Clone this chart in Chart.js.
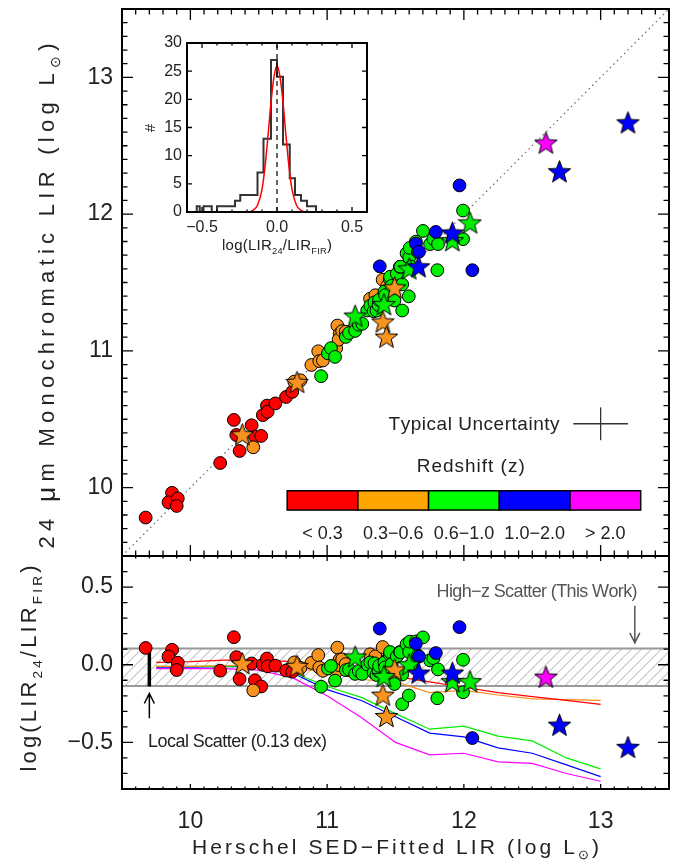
<!DOCTYPE html>
<html>
<head>
<meta charset="utf-8">
<title>LIR24 vs LIR FIR</title>
<script src="https://cdn.jsdelivr.net/npm/chart.js@4.4.1/dist/chart.umd.min.js"></script>
<style>
  html, body { margin: 0; padding: 0; background: #fff; }
  #wrap { position: relative; width: 681px; height: 861px; overflow: hidden; }
  #wrap canvas { position: absolute; }
</style>
</head>
<body>
<div id="wrap">
  <canvas id="topChart" width="681" height="560" style="left:0;top:0;"></canvas>
  <canvas id="botChart" width="681" height="309" style="left:0;top:552px;"></canvas>
  <canvas id="histChart" width="240" height="232" style="left:140px;top:28px;"></canvas>
</div>
<script>
const FONT = "'Liberation Sans', Arial, sans-serif";
const INK = '#222';

// [log LIR from Herschel SED fit, log LIR from 24um], one list per redshift bin
const circZ0 = [[9.673, 9.781], [9.866, 9.962], [9.840, 9.893], [9.908, 9.921], [9.900, 9.866],
  [10.218, 10.180], [10.318, 10.495], [10.336, 10.385], [10.360, 10.268], [10.448, 10.456],
  [10.472, 10.372], [10.518, 10.378], [10.530, 10.530], [10.560, 10.600], [10.565, 10.555],
  [10.622, 10.616], [10.700, 10.663], [10.745, 10.700]];
const circZ1 = [[10.460, 10.295], [10.760, 10.775], [10.805, 10.785], [10.885, 10.897], [10.935, 10.997],
  [10.943, 10.925], [10.969, 10.930], [11.066, 11.020], [11.075, 11.185], [11.092, 11.125],
  [11.084, 11.082], [11.110, 11.145], [11.136, 11.140], [11.314, 11.381], [11.353, 11.407],
  [11.406, 11.520], [11.440, 11.475]];
const circZ2 = [[10.956, 10.815], [11.006, 10.982], [11.028, 11.020], [11.058, 10.956], [11.137, 11.102],
  [11.160, 11.130], [11.205, 11.146], [11.232, 11.191], [11.257, 11.198], [11.293, 11.295],
  [11.316, 11.331], [11.340, 11.290], [11.346, 11.355], [11.361, 11.295], [11.376, 11.335],
  [11.380, 11.373], [11.419, 11.433], [11.424, 11.407], [11.458, 11.525], [11.460, 11.542],
  [11.472, 11.476], [11.492, 11.368], [11.510, 11.564], [11.532, 11.614], [11.536, 11.616],
  [11.549, 11.295], [11.549, 11.486], [11.581, 11.713], [11.597, 11.399], [11.600, 11.682],
  [11.604, 11.753], [11.615, 11.616], [11.649, 11.799], [11.664, 11.723], [11.701, 11.877],
  [11.753, 11.781], [11.777, 11.819], [11.806, 11.590], [11.811, 11.781], [11.994, 12.026],
  [11.994, 11.817]];
const circZ3 = [[11.385, 11.618], [11.649, 11.785], [11.672, 11.725], [11.795, 11.870],
  [11.968, 12.210], [12.062, 11.590]];
const starZ1 = [[10.380, 10.387], [10.780, 10.770], [11.408, 11.212], [11.434, 11.101], [11.494, 11.461]];
const starZ2 = [[11.205, 11.255], [11.415, 11.339], [11.600, 11.600], [11.915, 11.806], [12.045, 11.936]];
const starZ3 = [[11.669, 11.615], [11.916, 11.862], [12.699, 12.310], [13.200, 12.668]];
const starZ4 = [[12.600, 12.520]];
const oneToOne = [9.5, 13.5];

// model tracks in the residual panel
const trackX = [9.75, 10.0, 10.25, 10.5, 10.75, 11.0, 11.25, 11.5, 11.75, 12.0, 12.25, 12.5, 12.75, 13.0];
const trackZ0 = [0.015, 0.02, 0.03, 0.03, 0.02, -0.005, -0.04, -0.075, -0.11, -0.145, -0.18, -0.205, -0.23, -0.255];
const trackZ1 = [-0.01, -0.01, -0.005, 0.0, -0.02, -0.05, -0.095, -0.11, -0.18, -0.165, -0.195, -0.22, -0.225, -0.23];
const trackZ2 = [-0.01, -0.01, -0.01, -0.005, -0.05, -0.14, -0.21, -0.315, -0.415, -0.395, -0.46, -0.49, -0.6, -0.67];
const trackZ3 = [-0.015, -0.015, -0.012, -0.01, -0.055, -0.16, -0.23, -0.335, -0.44, -0.465, -0.535, -0.57, -0.645, -0.72];
const trackZ4 = [-0.025, -0.025, -0.025, -0.035, -0.085, -0.2, -0.34, -0.5, -0.58, -0.57, -0.625, -0.635, -0.7, -0.75];
const highzBand = [-0.137, 0.104];
const localBar = [-0.14, 0.12];

// inset histogram of log(LIR24/LIRFIR)
const histEdges = [-0.535, -0.515, -0.49, -0.435, -0.40, -0.28, -0.245, -0.13, -0.09, -0.04, 0.00,
  0.04, 0.085, 0.12, 0.16, 0.20, 0.26];
const histCounts = [1, 0, 1, 0, 1, 2, 3, 7, 13, 27, 24, 12, 6, 3, 2, 1];
const fitX = [-0.6, -0.25, -0.2, -0.16, -0.13, -0.1, -0.08, -0.06, -0.04, -0.02, 0, 0.02, 0.04,
  0.06, 0.08, 0.1, 0.13, 0.16, 0.2, 0.25, 0.6];
const fitY = [0, 0, 0, 0.3, 1.2, 4, 8, 13.5, 19.5, 24, 26, 24, 19.5, 13.5, 8, 4, 1.2, 0.3, 0, 0, 0];

const xTicks = [10, 11, 12, 13];
const yTicks = [10, 11, 12, 13];
const resTicks = [-0.5, 0, 0.5];
const histXTicks = [-0.5, 0, 0.5];
const histYTicks = [0, 5, 10, 15, 20, 25, 30];
const zLabels = ['< 0.3', '0.3−0.6', '0.6−1.0', '1.0−2.0', '> 2.0'];

const zColors = ['#ff0000', '#ffa500', '#00ff00', '#0000ff', '#ff00ff'];
const ptColors = ['#ff0000', '#f7931e', '#00ee00', '#0000ff', '#ff00ff'];

// annotation placement (data units)
const errCenter = [13.0, 10.467];
const errHalf = [0.2, 0.12];
const cbar = { x0: 10.708, x1: 13.293, y0: 9.836, y1: 9.977, labelY: 9.66 };

const toXY = pts => pts.map(p => ({ x: p[0], y: p[1] }));
const toRes = pts => pts.map(p => ({ x: p[0], y: p[1] - p[0] }));
const track = ys => trackX.map((x, i) => ({ x, y: ys[i] }));

function starImg(color) {
    const c = document.createElement('canvas');
    c.width = 27; c.height = 27;
    const g = c.getContext('2d');
    g.beginPath();
    for (let i = 0; i < 10; i++) {
        const r = i % 2 ? 5.0 : 11.8;
        const a = -Math.PI / 2 + i * Math.PI / 5;
        g.lineTo(13.5 + r * Math.cos(a), 14.2 + r * Math.sin(a));
    }
    g.closePath();
    g.fillStyle = color;
    g.fill();
    g.lineWidth = 1;
    g.strokeStyle = '#000';
    g.stroke();
    return c;
}

function circles(pts, color, map) {
    return { data: map(pts), pointStyle: 'circle', pointRadius: 6.4, backgroundColor: color, borderColor: '#000', borderWidth: 1 };
}
function starSet(pts, color, map) {
    return { data: map(pts), pointStyle: starImg(color), pointRadius: 11 };
}
function lineSet(data, color, width, extra) {
    return Object.assign({ type: 'line', data, borderColor: color, borderWidth: width, pointRadius: 0, fill: false, tension: 0 }, extra || {});
}

// text with subscripts, stretched to a target width if asked
function drawRich(ctx, parts, x, y, size, opts = {}) {
    const align = opts.align || 'center';
    ctx.save();
    ctx.translate(x, y);
    if (opts.rotate) ctx.rotate(-Math.PI / 2);
    ctx.fillStyle = opts.color || INK;
    ctx.textBaseline = 'middle';
    ctx.textAlign = 'left';
    const sz = p => p.sub ? size * 0.62 : size * (p.scale || 1);
    let raw = 0, n = 0;
    parts.forEach(p => {
        ctx.font = `${sz(p)}px ${FONT}`;
        for (const ch of p.t) { raw += ctx.measureText(ch).width; n++; }
    });
    const sp = opts.width ? (opts.width - raw) / Math.max(n - 1, 1) : 0;
    const total = raw + sp * (n - 1);
    let cx = align === 'center' ? -total / 2 : align === 'right' ? -total : 0;
    parts.forEach(p => {
        ctx.font = `${sz(p)}px ${FONT}`;
        const dy = p.sub ? size * 0.36 : 0;
        for (const ch of p.t) {
            ctx.fillText(ch, cx, dy);
            cx += ctx.measureText(ch).width + sp;
        }
    });
    ctx.restore();
}

// IDL style box with inward ticks on all four sides
function idlFrame(chart, o) {
    const { ctx, chartArea: a, scales: { x, y } } = chart;
    const steps = (min, max, step) => {
        const out = [];
        for (let i = Math.ceil(min / step - 1e-6); i * step <= max + 1e-6; i++) out.push(i * step);
        return out;
    };
    const isMajor = (v, majors) => majors.some(m => Math.abs(m - v) < 1e-6);
    ctx.save();
    ctx.strokeStyle = '#000';
    ctx.lineWidth = 1.3;
    ctx.beginPath();
    steps(x.min, x.max, o.xStep).forEach(v => {
        const p = x.getPixelForValue(v);
        const len = isMajor(v, o.xMajor) ? o.xLen : o.xLen / 2;
        ctx.moveTo(p, a.bottom); ctx.lineTo(p, a.bottom - len);
        ctx.moveTo(p, a.top); ctx.lineTo(p, a.top + len);
    });
    steps(y.min, y.max, o.yStep).forEach(v => {
        const p = y.getPixelForValue(v);
        const len = isMajor(v, o.yMajor) ? o.yLen : o.yLen / 2;
        ctx.moveTo(a.left, p); ctx.lineTo(a.left + len, p);
        ctx.moveTo(a.right, p); ctx.lineTo(a.right - len, p);
    });
    ctx.stroke();
    ctx.lineWidth = 2;
    ctx.strokeRect(a.left, a.top, a.right - a.left, a.bottom - a.top);
    ctx.restore();
}

function arrow(ctx, x, y0, y1, color, w) {
    const d = Math.sign(y1 - y0);
    ctx.save();
    ctx.strokeStyle = color;
    ctx.lineWidth = w;
    ctx.beginPath();
    ctx.moveTo(x, y0); ctx.lineTo(x, y1);
    ctx.moveTo(x - 5, y1 - d * 10); ctx.lineTo(x, y1); ctx.lineTo(x + 5, y1 - d * 10);
    ctx.stroke();
    ctx.restore();
}

function baseOptions(padding) {
    return {
        responsive: false,
        animation: false,
        devicePixelRatio: 1,
        events: [],
        layout: { padding, autoPadding: false },
        plugins: { legend: { display: false }, tooltip: { enabled: false } }
    };
}

function valueAxis(min, max, ticks, size, width, pad, fmt) {
    return {
        type: 'linear', min, max,
        grid: { display: false, drawTicks: false },
        border: { display: false },
        afterBuildTicks: s => { s.ticks = ticks.map(v => ({ value: v })); },
        afterFit: s => { s.width = width; s.paddingTop = 0; s.paddingBottom = 0; },
        ticks: { font: { family: FONT, size }, color: INK, padding: pad, autoSkip: false, callback: fmt }
    };
}
function baseAxis(min, max, ticks, size, height, pad, fmt) {
    return {
        type: 'linear', min, max,
        grid: { display: false, drawTicks: false },
        border: { display: false },
        afterBuildTicks: s => { s.ticks = ticks.map(v => ({ value: v })); },
        afterFit: s => { s.height = height; s.paddingLeft = 0; s.paddingRight = 0; },
        ticks: { font: { family: FONT, size }, color: INK, padding: pad, maxRotation: 0, autoSkip: false, callback: fmt }
    };
}
const fmt1 = v => (v < 0 ? '−' : '') + Math.abs(v).toFixed(1);

/* ---------- top panel ---------- */
const topDecor = {
    id: 'topDecor',
    afterDatasetsDraw(chart) {
        const { ctx, scales: { x, y } } = chart;
        const segW = (cbar.x1 - cbar.x0) / zColors.length;
        zColors.forEach((col, i) => {
            const l = x.getPixelForValue(cbar.x0 + i * segW);
            const r = x.getPixelForValue(cbar.x0 + (i + 1) * segW);
            const t = y.getPixelForValue(cbar.y1);
            const b = y.getPixelForValue(cbar.y0);
            ctx.fillStyle = col;
            ctx.fillRect(l, t, r - l, b - t);
            ctx.strokeStyle = '#000';
            ctx.lineWidth = 1.5;
            ctx.strokeRect(l, t, r - l, b - t);
            drawRich(ctx, [{ t: zLabels[i] }], (l + r) / 2, y.getPixelForValue(cbar.labelY), 18);
        });
        drawRich(ctx, [{ t: 'Redshift (z)' }], x.getPixelForValue(12.05), y.getPixelForValue(10.154), 19, { width: 108 });
        drawRich(ctx, [{ t: 'Typical Uncertainty' }], x.getPixelForValue(12.70), y.getPixelForValue(10.462), 19,
            { align: 'right', width: 171 });
        idlFrame(chart, { xStep: 0.1, yStep: 0.1, xMajor: xTicks, yMajor: yTicks, xLen: 11, yLen: 11 });
    },
    afterDraw(chart) {
        drawRich(chart.ctx, [{ t: '24 ' }, { t: 'μ', scale: 1.2 }, { t: 'm Monochromatic LIR (log L' }, { t: '⊙', sub: true }, { t: ')' }],
            48, 296, 22, { rotate: true, width: 505 });
    }
};

new Chart(document.getElementById('topChart'), {
    type: 'scatter',
    data: {
        datasets: [
            starSet(starZ4, ptColors[4], toXY),
            starSet(starZ3, ptColors[3], toXY),
            starSet(starZ2, ptColors[2], toXY),
            starSet(starZ1, ptColors[1], toXY),
            circles(circZ3, ptColors[3], toXY),
            circles(circZ2, ptColors[2], toXY),
            circles(circZ1, ptColors[1], toXY),
            circles(circZ0, ptColors[0], toXY),
            lineSet([{ x: errCenter[0] - errHalf[0], y: errCenter[1] }, { x: errCenter[0] + errHalf[0], y: errCenter[1] }], '#333', 1.3),
            lineSet([{ x: errCenter[0], y: errCenter[1] - errHalf[1] }, { x: errCenter[0], y: errCenter[1] + errHalf[1] }], '#333', 1.3),
            lineSet(oneToOne.map(v => ({ x: v, y: v })), '#666', 1.2, { borderDash: [1.5, 3.5] })
        ]
    },
    options: Object.assign(baseOptions({ top: 9, right: 12, bottom: 4, left: 0 }), {
        scales: {
            x: { type: 'linear', min: 9.5, max: 13.5, display: false },
            y: valueAxis(9.5, 13.5, yTicks, 23, 122, 9, v => String(v))
        }
    }),
    plugins: [topDecor]
});

/* ---------- residual panel ---------- */
const botDecor = {
    id: 'botDecor',
    beforeDatasetsDraw(chart) {
        const { ctx, chartArea: a, scales: { y } } = chart;
        const t = y.getPixelForValue(highzBand[1]);
        const b = y.getPixelForValue(highzBand[0]);
        const h = b - t;
        ctx.save();
        ctx.beginPath();
        ctx.rect(a.left, t, a.right - a.left, h);
        ctx.clip();
        ctx.strokeStyle = '#aaa';
        ctx.lineWidth = 1;
        ctx.beginPath();
        for (let k = a.left - h; k < a.right; k += 10) { ctx.moveTo(k, b); ctx.lineTo(k + h, t); }
        ctx.stroke();
        ctx.restore();
        ctx.save();
        ctx.strokeStyle = '#999';
        ctx.lineWidth = 2;
        ctx.beginPath();
        ctx.moveTo(a.left, t); ctx.lineTo(a.right, t);
        ctx.moveTo(a.left, b); ctx.lineTo(a.right, b);
        ctx.stroke();
        ctx.restore();
    },
    afterDatasetsDraw(chart) {
        const { ctx, chartArea: a, scales: { x, y } } = chart;
        arrow(ctx, x.getPixelForValue(9.70), y.getPixelForValue(-0.345), y.getPixelForValue(-0.185), '#000', 1.5);
        drawRich(ctx, [{ t: 'Local Scatter (0.13 dex)' }], x.getPixelForValue(9.69), y.getPixelForValue(-0.5), 18,
            { align: 'left', width: 179 });
        arrow(ctx, x.getPixelForValue(13.25), y.getPixelForValue(0.38), y.getPixelForValue(0.141), '#555', 1.5);
        drawRich(ctx, [{ t: 'High−z Scatter (This Work)' }], x.getPixelForValue(13.27), y.getPixelForValue(0.467), 18,
            { align: 'right', width: 201, color: '#555' });
        idlFrame(chart, { xStep: 0.1, yStep: 0.1, xMajor: xTicks, yMajor: resTicks, xLen: 5, yLen: 11 });
        drawRich(ctx, [{ t: 'Herschel SED−Fitted LIR (log L' }, { t: '⊙', sub: true }, { t: ')' }],
            (a.left + a.right) / 2, 296, 21, { width: 407 });
        drawRich(ctx, [{ t: 'log(LIR' }, { t: '24', sub: true }, { t: '/LIR' }, { t: 'FIR', sub: true }, { t: ')' }],
            30, (a.top + a.bottom) / 2 - 4, 22, { rotate: true, width: 206 });
    }
};

new Chart(document.getElementById('botChart'), {
    type: 'scatter',
    data: {
        datasets: [
            starSet(starZ4, ptColors[4], toRes),
            starSet(starZ3, ptColors[3], toRes),
            starSet(starZ2, ptColors[2], toRes),
            starSet(starZ1, ptColors[1], toRes),
            circles(circZ3, ptColors[3], toRes),
            circles(circZ2, ptColors[2], toRes),
            circles(circZ1, ptColors[1], toRes),
            circles(circZ0, ptColors[0], toRes),
            lineSet(localBar.map(v => ({ x: 9.70, y: v })), '#000', 3.5),
            lineSet(track(trackZ0), '#ff0000', 1.2),
            lineSet(track(trackZ1), '#ff8c1a', 1.2),
            lineSet(track(trackZ2), '#00ee00', 1.2),
            lineSet(track(trackZ3), '#0000ff', 1.2),
            lineSet(track(trackZ4), '#ff00ff', 1.2)
        ]
    },
    options: Object.assign(baseOptions({ top: 4, right: 12, bottom: 0, left: 0 }), {
        scales: {
            x: baseAxis(9.5, 13.5, xTicks, 23, 72, 19, v => String(v)),
            y: valueAxis(-0.8, 0.7, resTicks, 23, 122, 9, fmt1)
        }
    }),
    plugins: [botDecor]
});

/* ---------- inset histogram ---------- */
const histLine = [{ x: histEdges[0], y: 0 }]
    .concat(histCounts.map((c, i) => ({ x: histEdges[i], y: c })))
    .concat([{ x: histEdges[histEdges.length - 1], y: histCounts[histCounts.length - 1] },
             { x: histEdges[histEdges.length - 1], y: 0 }]);

const histDecor = {
    id: 'histDecor',
    afterDatasetsDraw(chart) {
        const { ctx, chartArea: a } = chart;
        idlFrame(chart, { xStep: 0.1, yStep: 5, xMajor: histXTicks, yMajor: histYTicks, xLen: 5, yLen: 5 });
        drawRich(ctx, [{ t: 'log(LIR' }, { t: '24', sub: true }, { t: '/LIR' }, { t: 'FIR', sub: true }, { t: ')' }],
            (a.left + a.right) / 2, 218, 15, { width: 110 });
        drawRich(ctx, [{ t: '#' }], 11, 100, 15, { rotate: true });
    }
};

new Chart(document.getElementById('histChart'), {
    type: 'scatter',
    data: {
        datasets: [
            lineSet([{ x: 0, y: 0 }, { x: 0, y: 30 }], '#000', 1.2, { borderDash: [5, 4] }),
            lineSet(fitX.map((v, i) => ({ x: v, y: fitY[i] })), '#ff0000', 1.5, { cubicInterpolationMode: 'monotone' }),
            lineSet(histLine, '#333', 2, { stepped: true })
        ]
    },
    options: Object.assign(baseOptions({ top: 15, right: 13, bottom: 0, left: 0 }), {
        scales: {
            x: baseAxis(-0.6, 0.6, histXTicks, 16, 48, 6, fmt1),
            y: valueAxis(0, 30, histYTicks, 16, 47, 5, v => String(v))
        }
    }),
    plugins: [histDecor]
});
</script>
</body>
</html>
